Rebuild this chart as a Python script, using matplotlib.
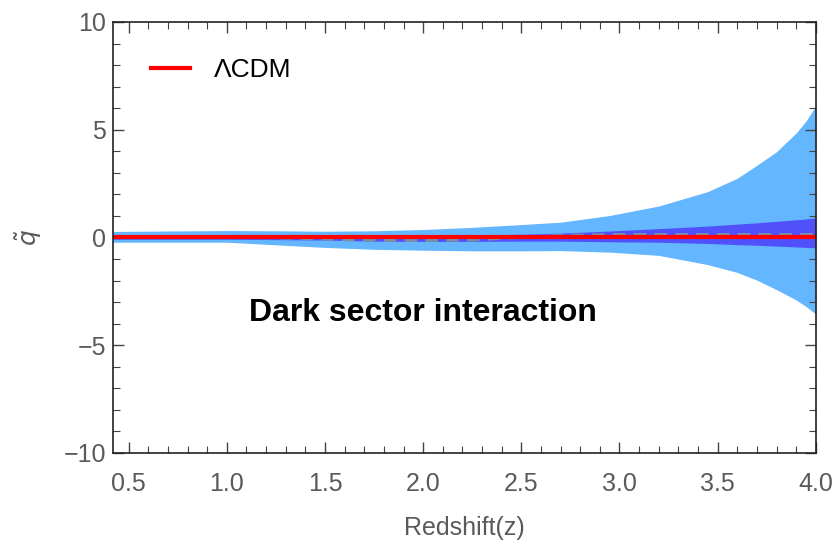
import matplotlib.pyplot as plt
from matplotlib.ticker import MultipleLocator

# reconstruction of q-tilde vs redshift
z = [0.42, 0.7, 1.0, 1.25, 1.5, 1.75, 2.0, 2.25, 2.5, 2.7, 2.95, 3.2, 3.45, 3.6, 3.7, 3.8, 3.9, 3.95, 4.0]
outer_hi = [0.28, 0.30, 0.32, 0.31, 0.29, 0.31, 0.37, 0.47, 0.60, 0.71, 1.02, 1.46, 2.13, 2.75, 3.35, 3.98, 4.85, 5.4, 6.1]
outer_lo = [-0.22, -0.22, -0.22, -0.34, -0.46, -0.55, -0.59, -0.62, -0.62, -0.61, -0.68, -0.83, -1.26, -1.62, -1.98, -2.42, -2.9, -3.2, -3.55]
inner_hi = [0.08, 0.08, 0.08, 0.07, 0.06, 0.07, 0.09, 0.12, 0.15, 0.20, 0.30, 0.41, 0.53, 0.62, 0.68, 0.75, 0.82, 0.86, 0.91]
inner_lo = [-0.08, -0.08, -0.08, -0.10, -0.12, -0.17, -0.18, -0.18, -0.17, -0.17, -0.20, -0.22, -0.28, -0.33, -0.36, -0.40, -0.44, -0.46, -0.48]
mean_q = [0.0, 0.0, 0.0, -0.02, -0.08, -0.13, -0.14, -0.12, 0.0, 0.10, 0.14, 0.14, 0.14, 0.14, 0.14, 0.14, 0.14, 0.14, 0.14]
lcdm_q = [0.0] * len(z)

gray = '#5a5a5a'
plt.rcParams['font.family'] = ['Liberation Sans', 'DejaVu Sans']

fig = plt.figure(figsize=(8.35, 5.44), dpi=100)
ax = fig.add_axes([0.1353, 0.1673, 0.8417, 0.7923])

ax.fill_between(z, outer_lo, outer_hi, color='#64b6ff', lw=0)
ax.fill_between(z, inner_lo, inner_hi, color='#5151fb', lw=0)
ax.plot(z, mean_q, color='#8090a0', lw=2, ls=(0, (4.5, 3)))
ax.plot(z, lcdm_q, color='#ff0000', lw=3, label='ΛCDM')

ax.set_xlim(0.42, 4.0)
ax.set_ylim(-10, 10)
ax.xaxis.set_major_locator(MultipleLocator(0.5))
ax.xaxis.set_minor_locator(MultipleLocator(0.1))
ax.yaxis.set_major_locator(MultipleLocator(5))
ax.yaxis.set_minor_locator(MultipleLocator(1))
ax.xaxis.set_major_formatter(plt.FuncFormatter(lambda v, p: f'{v:.1f}'))
ax.yaxis.set_major_formatter(plt.FuncFormatter(lambda v, p: f'{int(v)}'.replace('-', '\u2212')))

ax.tick_params(which='both', direction='in', top=True, right=True,
               labelsize=18, labelcolor=gray, color='#444444')
ax.tick_params(which='major', length=8, width=1, pad=5)
ax.tick_params(which='minor', length=5, width=0.8)
ax.tick_params(axis='x', which='major', pad=14)
for s in ax.spines.values():
    s.set_color('#222222')
    s.set_linewidth(1.2)

ax.set_xlabel('Redshift(z)', fontsize=18, color=gray, labelpad=14)
ax.set_ylabel(r'$\tilde{q}$', fontsize=18, color=gray, labelpad=14)

ax.text(2.0, -3.5, 'Dark sector interaction', fontsize=23, fontweight='bold',
        ha='center', va='center', color='black')

leg = ax.legend(loc='upper left', bbox_to_anchor=(0.02, 0.972), frameon=False,
                fontsize=19, handlelength=1.5, handletextpad=0.9)

fig.savefig('out.png', dpi=100)
